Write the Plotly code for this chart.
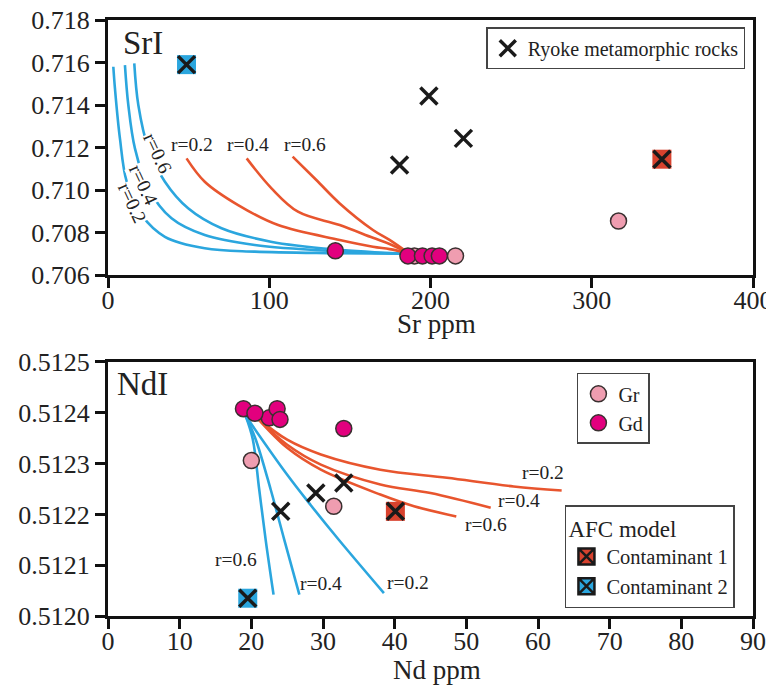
import plotly.graph_objects as go

# ---------------- data: Sr panel ----------------
sr_gd_x = [141, 186, 195, 201, 205.5]
sr_gd_y = [0.70714, 0.7069, 0.7069, 0.7069, 0.7069]
sr_gr_x = [190, 215.5, 316.6]
sr_gr_y = [0.7069, 0.7069, 0.70854]
sr_ryoke_x = [199, 220.4, 180.8]
sr_ryoke_y = [0.71442, 0.71243, 0.71118]
sr_c1_x = [343.5]
sr_c1_y = [0.71145]
sr_c2_x = [48.7]
sr_c2_y = [0.7159]

# contaminant-2 (blue) AFC curves
sr_b02_x = [3.3, 4.3, 7.4, 11.6, 20.9, 35.3, 60, 91, 141, 186]
sr_b02_y = [0.7158, 0.71479, 0.71243, 0.71039, 0.70882, 0.7078, 0.70726, 0.7071, 0.70703, 0.707]
sr_b04_x = [10.5, 12.6, 16.7, 25, 39.4, 60, 91, 141, 186]
sr_b04_y = [0.71588, 0.714, 0.71196, 0.71008, 0.70867, 0.70788, 0.70741, 0.70712, 0.707]
sr_b06_x = [16.3, 18.8, 25, 35.3, 49.7, 70.4, 101, 141, 186]
sr_b06_y = [0.71596, 0.714, 0.71196, 0.71039, 0.70914, 0.7082, 0.70757, 0.7072, 0.707]
# contaminant-1 (red) AFC curves
sr_r02_x = [48.7, 60, 80.7, 105.5, 143.7, 164.3, 174.6, 186]
sr_r02_y = [0.71149, 0.71039, 0.70929, 0.70835, 0.70765, 0.70733, 0.70722, 0.70705]
sr_r04_x = [86, 101.4, 117.8, 143.7, 164.3, 174.6, 186]
sr_r04_y = [0.71149, 0.71008, 0.70898, 0.70835, 0.70775, 0.70746, 0.70705]
sr_r06_x = [114.5, 129.2, 143.7, 164.3, 174.6, 186]
sr_r06_y = [0.71157, 0.71047, 0.70937, 0.70812, 0.70765, 0.70705]

# ---------------- data: Nd panel ----------------
nd_gd_x = [18.9, 22.5, 20.5, 23.6, 24.0, 32.9]
nd_gd_y = [0.512408, 0.51239, 0.512399, 0.512408, 0.512387, 0.512369]
nd_gr_x = [20.0, 31.5]
nd_gr_y = [0.512306, 0.512216]
nd_ryoke_x = [24.1, 29.0, 32.9]
nd_ryoke_y = [0.512206, 0.512242, 0.512262]
nd_c1_x = [40.1]
nd_c1_y = [0.512206]
nd_c2_x = [19.5]
nd_c2_y = [0.512035]

nd_b02_x = [19.2, 24.8, 28.3, 32.2, 38.5]
nd_b02_y = [0.512394, 0.512282, 0.512218, 0.51215, 0.512045]
nd_b04_x = [19.2, 20.6, 22.7, 24.6, 26.7]
nd_b04_y = [0.512394, 0.512348, 0.512249, 0.51215, 0.512042]
nd_b06_x = [19.2, 20.2, 21.1, 22.0, 23.1]
nd_b06_y = [0.512394, 0.512348, 0.512249, 0.51215, 0.512042]
nd_r02_x = [20.8, 25.0, 29.7, 38.0, 47.3, 56.6, 63.3]
nd_r02_y = [0.51239, 0.512347, 0.512318, 0.512288, 0.512272, 0.512255, 0.512247]
nd_r04_x = [20.8, 25.0, 29.7, 38.0, 45.0, 53.4]
nd_r04_y = [0.51239, 0.512337, 0.512298, 0.512259, 0.512242, 0.512213]
nd_r06_x = [20.8, 25.0, 29.7, 38.0, 42.7, 48.6]
nd_r06_y = [0.51239, 0.512331, 0.512288, 0.512239, 0.512216, 0.512196]

sr_ticks = [0.706, 0.708, 0.710, 0.712, 0.714, 0.716, 0.718]
sr_xticks = [0, 100, 200, 300, 400]
nd_ticks = [0.5120, 0.5121, 0.5122, 0.5123, 0.5124, 0.5125]
nd_xticks = [0, 10, 20, 30, 40, 50, 60, 70, 80, 90]

# ---------------- styles ----------------
FONT = "Liberation Serif"
BLUE = "#2BA6DE"
RED = "#E8552E"
GD = "#E2007E"
GR = "#EF9DB0"
C1 = "#D8422E"
OUT = "#3a3030"
TXT = "#222"

fig = go.Figure()


def curve(x, y, color, xa, ya):
    fig.add_trace(go.Scatter(x=x, y=y, mode="lines", line=dict(color=color, width=2.6, shape="spline"),
                             xaxis=xa, yaxis=ya, showlegend=False, hoverinfo="skip"))


def circles(x, y, color, xa, ya, name, show, legend="legend2"):
    fig.add_trace(go.Scatter(x=x, y=y, mode="markers", name=name,
                             marker=dict(symbol="circle", size=16, color=color, line=dict(color=OUT, width=1.5)),
                             xaxis=xa, yaxis=ya, showlegend=show, legend=legend))


def xmarks(x, y, xa, ya, name, show, legend="legend"):
    fig.add_trace(go.Scatter(x=x, y=y, mode="markers", name=name,
                             marker=dict(symbol="x-thin-open", size=17, color="#1a1a1a",
                                         line=dict(color="#1a1a1a", width=3.5)),
                             xaxis=xa, yaxis=ya, showlegend=show, legend=legend))


def squares(x, y, color, xa, ya):
    fig.add_trace(go.Scatter(x=x, y=y, mode="markers",
                             marker=dict(symbol="square", size=19, color=color, line=dict(width=0)),
                             xaxis=xa, yaxis=ya, showlegend=False))
    xmarks(x, y, xa, ya, "", False)


# Sr panel (x, y)
for cx, cy in [(sr_b02_x, sr_b02_y), (sr_b04_x, sr_b04_y), (sr_b06_x, sr_b06_y)]:
    curve(cx, cy, BLUE, "x", "y")
for cx, cy in [(sr_r02_x, sr_r02_y), (sr_r04_x, sr_r04_y), (sr_r06_x, sr_r06_y)]:
    curve(cx, cy, RED, "x", "y")
circles(sr_gr_x, sr_gr_y, GR, "x", "y", "Gr", False)
circles(sr_gd_x, sr_gd_y, GD, "x", "y", "Gd", False)
squares(sr_c1_x, sr_c1_y, C1, "x", "y")
squares(sr_c2_x, sr_c2_y, BLUE, "x", "y")
xmarks(sr_ryoke_x, sr_ryoke_y, "x", "y", "Ryoke metamorphic rocks", True, "legend")

# Nd panel (x2, y2)
for cx, cy in [(nd_b02_x, nd_b02_y), (nd_b04_x, nd_b04_y), (nd_b06_x, nd_b06_y)]:
    curve(cx, cy, BLUE, "x2", "y2")
for cx, cy in [(nd_r02_x, nd_r02_y), (nd_r04_x, nd_r04_y), (nd_r06_x, nd_r06_y)]:
    curve(cx, cy, RED, "x2", "y2")
circles(nd_gr_x, nd_gr_y, GR, "x2", "y2", "Gr", True)
circles(nd_gd_x, nd_gd_y, GD, "x2", "y2", "Gd", True)
squares(nd_c1_x, nd_c1_y, C1, "x2", "y2")
squares(nd_c2_x, nd_c2_y, BLUE, "x2", "y2")
xmarks(nd_ryoke_x, nd_ryoke_y, "x2", "y2", "", False)

# legend-only entries for the AFC contaminants
for nm, col in [("Contaminant 1", C1), ("Contaminant 2", BLUE)]:
    fig.add_trace(go.Scatter(x=[None], y=[None], mode="markers", name=nm,
                             marker=dict(symbol="square-x", size=16, color=col, line=dict(color="#1a1a1a", width=2.5)),
                             xaxis="x2", yaxis="y2", showlegend=True, legend="legend3"))

axis_common = dict(showline=True, mirror=True, linecolor="#111", linewidth=3, ticks="outside",
                   ticklen=10, tickwidth=2.5, tickcolor="#111", showgrid=False, zeroline=False,
                   automargin=False, ticklabeloverflow="allow",
                   tickfont=dict(family=FONT, size=26, color=TXT))
xaxis_extra = dict(ticklabelstandoff=-10)

TOP = [0.5721, 1.0]
BOT = [0.0, 0.4262]

fig.update_layout(
    width=766, height=678,
    margin=dict(l=100, r=21, t=12, b=70, autoexpand=False),
    paper_bgcolor="white", plot_bgcolor="white",
    font=dict(family=FONT, color=TXT),
    xaxis=dict(axis_common, **xaxis_extra, domain=[0, 1], range=[0, 400], tickvals=sr_xticks, anchor="y"),
    yaxis=dict(axis_common, domain=TOP, range=[0.706, 0.718], tickvals=sr_ticks, tickformat=".3f", anchor="x"),
    xaxis2=dict(axis_common, **xaxis_extra, domain=[0, 1], range=[0, 90], tickvals=nd_xticks, anchor="y2"),
    yaxis2=dict(axis_common, domain=BOT, range=[0.5120, 0.5125], tickvals=nd_ticks, tickformat=".4f", anchor="x2"),
    legend=dict(x=0.988, y=0.988, xanchor="right", yanchor="top", bgcolor="white",
                bordercolor="#444", borderwidth=1.5, font=dict(family=FONT, size=20, color=TXT),
                itemwidth=30, tracegroupgap=0),
    legend2=dict(x=0.727, y=0.408, xanchor="left", yanchor="top", bgcolor="white",
                 bordercolor="#444", borderwidth=1.5, font=dict(family=FONT, size=20, color=TXT),
                 itemwidth=30, tracegroupgap=0, traceorder="normal"),
    legend3=dict(x=0.972, y=0.013, xanchor="right", yanchor="bottom", bgcolor="white",
                 bordercolor="#444", borderwidth=1.5, font=dict(family=FONT, size=20.5, color=TXT),
                 itemwidth=30, tracegroupgap=0, traceorder="normal",
                 title=dict(text="AFC model", side="top", font=dict(family=FONT, size=23, color=TXT))),
)

ann = []
lab = dict(family=FONT, size=19.5, color=TXT)
# axis titles
ann.append(dict(x=0.5096, y=0.4895, xref="paper", yref="paper", text="Sr ppm", showarrow=False,
                xanchor="center", yanchor="middle", font=dict(family=FONT, size=27, color=TXT)))
ann.append(dict(x=0.5096, y=-0.0906, xref="paper", yref="paper", text="Nd ppm", showarrow=False,
                xanchor="center", yanchor="middle", font=dict(family=FONT, size=27, color=TXT)))
# panel labels
ann.append(dict(x=21.7, y=0.71692, xref="x", yref="y", text="SrI", showarrow=False,
                font=dict(family=FONT, size=33, color=TXT)))
ann.append(dict(x=4.8, y=0.512456, xref="x2", yref="y2", text="NdI", showarrow=False,
                font=dict(family=FONT, size=33, color=TXT)))
# Sr panel curve labels
for txt, tx, ty in [("r=0.2", 51.8, 0.71212), ("r=0.4", 86.9, 0.71212), ("r=0.6", 122, 0.71212)]:
    ann.append(dict(x=tx, y=ty, xref="x", yref="y", text=txt, showarrow=False, font=lab))
for txt, tx, ty in [("r=0.6", 31, 0.71174), ("r=0.4", 21.7, 0.71024), ("r=0.2", 14.7, 0.70939)]:
    ann.append(dict(x=tx, y=ty, xref="x", yref="y", text=txt, showarrow=False, font=lab,
                    textangle=65, bgcolor="white", borderpad=0))
# Nd panel curve labels
for txt, tx, ty in [("r=0.2", 60.7, 0.512282), ("r=0.4", 57.3, 0.512227), ("r=0.6", 52.7, 0.512181),
                    ("r=0.6", 17.8, 0.512112), ("r=0.4", 29.7, 0.512063), ("r=0.2", 41.8, 0.512065)]:
    ann.append(dict(x=tx, y=ty, xref="x2", yref="y2", text=txt, showarrow=False, font=lab))
fig.update_layout(annotations=ann)

fig.write_html("out.html")
